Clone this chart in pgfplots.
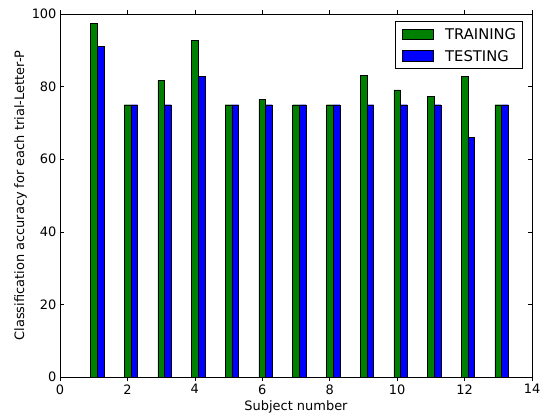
\documentclass[border=0pt]{standalone}
\usepackage{pgfplots}
\pgfplotsset{compat=1.18}
\usepackage{fontspec}
\setmainfont{DejaVu Sans}
\definecolor{mplgreen}{rgb}{0,0.5,0}
\definecolor{mplblue}{rgb}{0,0,1}

% Accuracy per subject (percent)
\pgfplotstableread{
subj train test
1  97.4 91.0
2  75.0 75.0
3  81.8 75.0
4  92.7 82.9
5  75.0 75.0
6  76.4 75.0
7  75.0 75.0
8  75.0 75.0
9  83.1 75.0
10 79.1 75.0
11 77.4 75.0
12 82.8 66.1
13 75.0 75.0
}\acctable

\begin{document}
\begin{tikzpicture}
\useasboundingbox (-60bp,-39bp) rectangle (482bp,377bp);
\begin{axis}[
  at={(0,0)}, anchor=south west,
  scale only axis, width=472bp, height=363bp,
  xmin=0, xmax=14, ymin=0, ymax=100,
  xtick={0,2,...,14}, ytick={0,20,...,100},
  tick align=inside, major tick length=4bp,
  tick style={black, line width=0.5pt},
  axis line style={black, line width=0.8pt},
  /pgf/number format/assume math mode=true,
  tick label style={font=\fontsize{13}{15}\selectfont},
  label style={font=\fontsize{13}{15}\selectfont},
  xlabel={Subject number},
  ylabel={Classification accuracy for each trial-Letter-P},
  ylabel style={yshift=-2bp},
  ybar, bar width=0.2,
  legend style={at={(0.98,0.981)}, anchor=north east, draw=black,
    line width=0.8pt,
    font=\fontsize{14.8}{17}\selectfont,
    nodes={inner sep=0pt, text height=10.8bp, text depth=0bp},
    inner xsep=6bp, inner ysep=7.3bp,
    row sep=10.8bp, column sep=12bp, cells={anchor=west}},
  legend image code/.code={\draw[#1, line width=0.5pt] (0bp,-5.3bp) rectangle (31bp,5.3bp);},
]
\addplot[draw=black, line width=0.4pt, fill=mplgreen, bar shift=0] table[x=subj, y=train] {\acctable};
\addlegendentry{TRAINING}
\addplot[draw=black, line width=0.4pt, fill=mplblue, bar shift=0.2] table[x=subj, y=test] {\acctable};
\addlegendentry{TESTING}
\end{axis}
\end{tikzpicture}
\end{document}
